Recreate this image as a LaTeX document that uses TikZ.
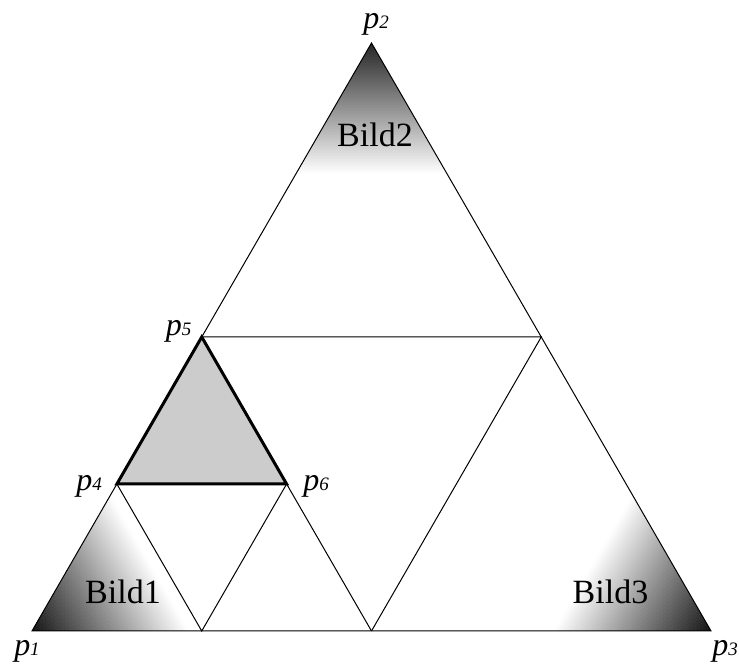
\documentclass[tikz,border=0pt]{standalone}
\usepackage{fontspec}
\setmainfont{Liberation Serif}
\usetikzlibrary{calc}
\newcommand\plab[1]{\fontsize{32}{32}\selectfont\textit{p}{\fontsize{19}{19}\selectfont\textit{#1}}}
\newcommand\gradbands[2]{% #1 = start darkness, #2 = length
  \foreach \i in {0,...,80}{%
    \pgfmathsetmacro\d{\i*2}%
    \pgfmathsetmacro\pct{max(0,#1*(1-\d/#2))}%
    \fill[black!\pct] (-200,\d) rectangle (200,\d+2.3);
  }%
}
\tikzset{
  thin line/.style={draw=black, line width=1pt, line join=miter},
  thick line/.style={draw=black, line width=3pt, line join=miter},
  bildtext/.style={font=\fontsize{34}{34}\selectfont, inner sep=0pt},
  plabel/.style={inner sep=0pt}
}
\begin{document}
\begin{tikzpicture}[x=1pt,y=1pt]
\useasboundingbox (0,0) rectangle (739,664);
\coordinate (p1) at (32,33);
\coordinate (p2) at (371.5,621);
\coordinate (p3) at (711,33);
\coordinate (p4) at ($(p1)!0.25!(p2)$);
\coordinate (p5) at ($(p1)!0.5!(p2)$);
\coordinate (q1) at ($(p1)!0.25!(p3)$);
\coordinate (q2) at ($(p1)!0.5!(p3)$);
\coordinate (q3) at ($(p2)!0.5!(p3)$);
\coordinate (p6) at ($(p4)+(q1)-(p1)$);
\coordinate (r2a) at ($(p2)!0.25!(p1)$);
\coordinate (r2b) at ($(p2)!0.25!(p3)$);
\coordinate (r3a) at ($(p3)!0.25!(p2)$);
\coordinate (r3b) at ($(p3)!0.25!(p1)$);
% corner shadings
\begin{scope}
  \clip (p1) -- (p4) -- (q1) -- cycle;
  \begin{scope}[shift={(p1)}, rotate=-60]
    \gradbands{92}{135}
  \end{scope}
\end{scope}
\begin{scope}
  \clip (p3) -- (r3a) -- (r3b) -- cycle;
  \begin{scope}[shift={(p3)}, rotate=60]
    \gradbands{92}{135}
  \end{scope}
\end{scope}
\begin{scope}
  \clip (p2) -- (r2a) -- (r2b) -- cycle;
  \begin{scope}[shift={(p2)}, rotate=180]
    \gradbands{85}{130}
  \end{scope}
\end{scope}
% grey triangle
\fill[black!20] (p4) -- (p5) -- (p6) -- cycle;
% thin lines
\draw[thin line] (p1) -- (p2) -- (p3) -- cycle;
\draw[thin line] (p5) -- (q3) -- (q2);
\draw[thin line] (p4) -- (q1) -- (p6) -- (q2);
% thick triangle
\draw[thick line] (p4) -- (p5) -- (p6) -- cycle;
% texts
\node[bildtext] (b1) at (123,72.6) {Bild1};
\node[bildtext] (b2) at (375,529) {Bild2};
\node[bildtext] (b3) at (610.5,72.6) {Bild3};
\node[plabel] (l1) at (27,12.5) {\plab{1}};
\node[plabel] (l2) at (376,640) {\plab{2}};
\node[plabel] (l3) at (725,13) {\plab{3}};
\node[plabel] (l4) at (89,178) {\plab{4}};
\node[plabel] (l5) at (178.5,333) {\plab{5}};
\node[plabel] (l6) at (316,178) {\plab{6}};
\end{tikzpicture}
\end{document}
